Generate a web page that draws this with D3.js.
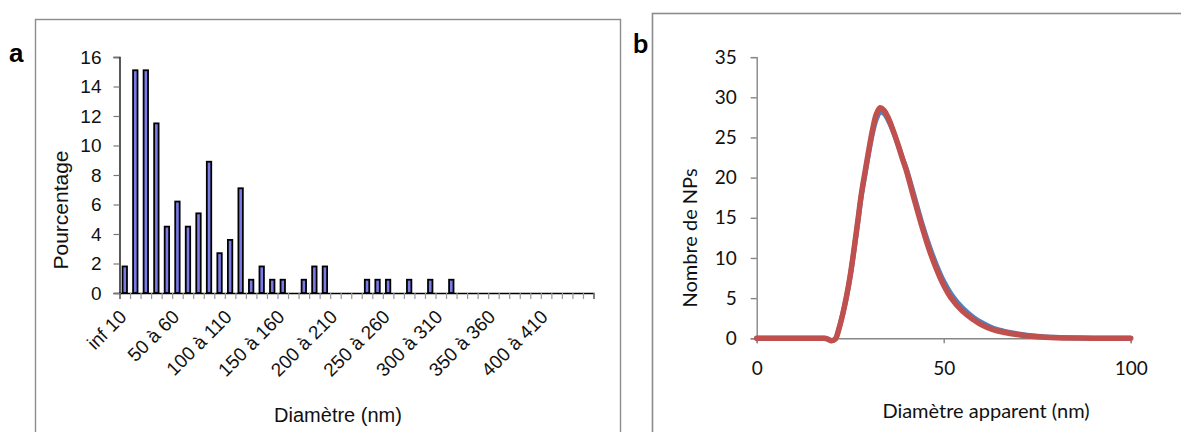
<!DOCTYPE html>
<html>
<head>
<meta charset="utf-8">
<script src="https://cdn.jsdelivr.net/npm/d3@7"></script>
<style>
  html, body { margin: 0; padding: 0; background: #fff; }
  svg { display: block; }
</style>
</head>
<body>
<svg id="chart" width="1181" height="432"></svg>
<script>
// ---------- Data: panel a (histogram) ----------
const categories = [
  "inf 10","10 à 20","20 à 30","30 à 40","40 à 50",
  "50 à 60","60 à 70","70 à 80","80 à 90","90 à 100",
  "100 à 110","110 à 120","120 à 130","130 à 140","140 à 150",
  "150 à 160","160 à 170","170 à 180","180 à 190","190 à 200",
  "200 à 210","210 à 220","220 à 230","230 à 240","240 à 250",
  "250 à 260","260 à 270","270 à 280","280 à 290","290 à 300",
  "300 à 310","310 à 320","320 à 330","330 à 340","340 à 350",
  "350 à 360","360 à 370","370 à 380","380 à 390","390 à 400",
  "400 à 410","410 à 420","420 à 430","430 à 440","440 à 450"
];
const percentages = [
  1.8, 15.1, 15.1, 11.5, 4.5,
  6.2, 4.5, 5.4, 8.9, 2.7,
  3.6, 7.1, 0.9, 1.8, 0.9,
  0.9, 0, 0.9, 1.8, 1.8,
  0, 0, 0, 0.9, 0.9,
  0.9, 0, 0.9, 0, 0.9,
  0, 0.9, 0, 0, 0,
  0, 0, 0, 0, 0,
  0, 0, 0, 0, 0
];
const shownCategoryLabels = ["inf 10","50 à 60","100 à 110","150 à 160","200 à 210","250 à 260","300 à 310","350 à 360","400 à 410"];
const yTicksA = [0, 2, 4, 6, 8, 10, 12, 14, 16];

// ---------- Data: panel b (size distribution curves) ----------
const diameters = [0,5,10,15,18,19,20,21,22,23,24,25,26,27,28,29,30,31,32,33,34,35,36,37,38,39,40,42,44,46,48,50,52,55,58,60,63,66,70,75,80,85,90,95,100];
const seriesBlue = [0,0,0,0,0,-0.1,-0.3,-0.1,1.2,3.0,5.1,7.7,10.9,14.3,17.8,20.5,23.2,25.6,27.3,28.1,28.0,27.3,26.3,25.1,23.8,22.4,21.1,17.9,14.6,11.7,9.2,7.1,5.5,3.8,2.6,2.0,1.3,0.9,0.55,0.27,0.12,0.05,0.02,0.01,0];
const seriesRed  = [0,0,0,0,0,-0.1,-0.3,-0.1,1.2,3.0,5.2,7.8,11.0,14.5,18.0,20.8,23.5,26.0,27.9,28.7,28.4,27.6,26.5,25.2,23.8,22.3,20.9,17.5,14.2,11.2,8.7,6.6,5.0,3.4,2.3,1.7,1.1,0.75,0.45,0.2,0.08,0.03,0.01,0,0];
const yTicksB = [0, 5, 10, 15, 20, 25, 30, 35];
const xTicksB = [0, 50, 100];

const svg = d3.select("#chart");

// ================= Panel a =================
const fontA = "'Liberation Sans', Arial, sans-serif";
const gA = svg.append("g");

gA.append("rect")
  .attr("x", 35.5).attr("y", 19.5).attr("width", 585).attr("height", 440)
  .attr("fill", "none").attr("stroke", "#8c8c8c").attr("stroke-width", 1.4);

gA.append("text").attr("x", 9).attr("y", 62)
  .attr("font-family", fontA).attr("font-weight", "bold").attr("font-size", 26)
  .text("a");

const xA = d3.scaleBand().domain(categories).range([119.5, 593.5])
  .paddingInner(0.58).paddingOuter(0.29);
const xEdge = d3.scaleLinear().domain([0, categories.length]).range([119.5, 593.5]);
const yA = d3.scaleLinear().domain([0, 16]).range([293, 57]);

// bars
gA.append("g").selectAll("rect")
  .data(categories.map((c, i) => ({c, v: percentages[i]})).filter(d => d.v > 0))
  .join("rect")
  .attr("x", d => xA(d.c))
  .attr("width", xA.bandwidth())
  .attr("y", d => yA(d.v))
  .attr("height", d => yA(0) - yA(d.v))
  .attr("fill", "#7b7be8")
  .attr("stroke", "#000")
  .attr("stroke-width", 1.8);

// y axis
const yAxisA = gA.append("g").attr("transform", "translate(119.5,0)")
  .call(d3.axisLeft(yA).tickValues(yTicksA).tickSize(6).tickPadding(12));
yAxisA.select(".domain").attr("stroke", "#000").attr("stroke-width", 1.3);
yAxisA.selectAll(".tick line").attr("stroke", "#777").attr("stroke-width", 1.2);
yAxisA.selectAll(".tick text").attr("font-family", fontA).attr("font-size", 19).attr("fill", "#111");

// x axis ticks at category boundaries
const xAxisA = gA.append("g").attr("transform", "translate(0,293)")
  .call(d3.axisBottom(xEdge).tickValues(d3.range(categories.length + 1)).tickSize(6).tickFormat(""));
xAxisA.select(".domain").attr("stroke", "#000").attr("stroke-width", 1.3);
xAxisA.selectAll(".tick line").attr("stroke", "#999").attr("stroke-width", 1.2);

// rotated category labels
gA.append("g").selectAll("text")
  .data(shownCategoryLabels)
  .join("text")
  .attr("transform", d => `translate(${xA(d) + xA.bandwidth() / 2 + 3},318) rotate(-45)`)
  .attr("text-anchor", "end")
  .attr("font-family", fontA).attr("font-size", 19).attr("fill", "#111")
  .text(d => d);

gA.append("text")
  .attr("transform", "translate(68,210) rotate(-90)")
  .attr("text-anchor", "middle")
  .attr("font-family", fontA).attr("font-size", 21).attr("fill", "#111")
  .text("Pourcentage");

gA.append("text")
  .attr("x", 338).attr("y", 422)
  .attr("text-anchor", "middle")
  .attr("font-family", fontA).attr("font-size", 20).attr("fill", "#111")
  .text("Diamètre (nm)");

// ================= Panel b =================
const fontB = "Lato, 'Open Sans', sans-serif";
const gB = svg.append("g");

gB.append("rect")
  .attr("x", 652.5).attr("y", 13.5).attr("width", 600).attr("height", 440)
  .attr("fill", "none").attr("stroke", "#8c8c8c").attr("stroke-width", 1.6);

gB.append("text").attr("x", 633).attr("y", 53)
  .attr("font-family", fontB).attr("font-weight", "bold").attr("font-size", 27)
  .text("b");

const xB = d3.scaleLinear().domain([0, 100]).range([756.7, 1130.7]);
const yB = d3.scaleLinear().domain([0, 35]).range([338.3, 57.1]);

const yAxisB = gB.append("g").attr("transform", "translate(756.7,0)")
  .call(d3.axisLeft(yB).tickValues(yTicksB).tickSize(6).tickPadding(14));
yAxisB.select(".domain").attr("stroke", "#868686").attr("stroke-width", 1.4);
yAxisB.selectAll(".tick line").attr("stroke", "#868686").attr("stroke-width", 1.4);
yAxisB.selectAll(".tick text").attr("font-family", fontB).attr("font-size", 19).attr("fill", "#111");

const xAxisB = gB.append("g").attr("transform", "translate(0,338.3)")
  .call(d3.axisBottom(xB).tickValues(xTicksB).tickSize(5));
xAxisB.select(".domain").attr("stroke", "#868686").attr("stroke-width", 1.4);
xAxisB.selectAll(".tick line").attr("stroke", "#868686").attr("stroke-width", 1.4);
xAxisB.selectAll(".tick text").attr("font-family", fontB).attr("font-size", 19).attr("fill", "#111")
  .attr("y", 37).attr("dy", 0);

const line = d3.line()
  .x((d, i) => xB(diameters[i]))
  .y(d => yB(d))
  .curve(d3.curveCatmullRom.alpha(0.5));

gB.append("path").datum(seriesBlue)
  .attr("d", line).attr("fill", "none")
  .attr("stroke", "#4F81BD").attr("stroke-width", 5)
  .attr("stroke-linejoin", "round").attr("stroke-linecap", "round");
gB.append("path").datum(seriesRed)
  .attr("d", line).attr("fill", "none")
  .attr("stroke", "#C0504D").attr("stroke-width", 5.5)
  .attr("stroke-linejoin", "round").attr("stroke-linecap", "round");

gB.append("text")
  .attr("transform", "translate(697,238) rotate(-90)")
  .attr("text-anchor", "middle")
  .attr("font-family", fontB).attr("font-size", 20).attr("fill", "#111")
  .text("Nombre de NPs");

gB.append("text")
  .attr("x", 986).attr("y", 418)
  .attr("text-anchor", "middle")
  .attr("font-family", fontB).attr("font-size", 20).attr("fill", "#111")
  .text("Diamètre apparent (nm)");
</script>
</body>
</html>
